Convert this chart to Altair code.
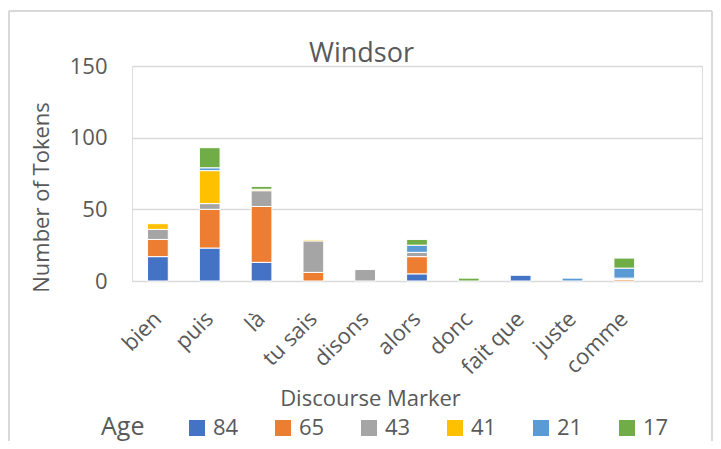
import altair as alt
import pandas as pd

categories = ["bien", "puis", "là", "tu sais", "disons", "alors", "donc", "fait que", "juste", "comme"]
ages = ["84", "65", "43", "41", "21", "17"]
colors = ["#4472C4", "#ED7D31", "#A5A5A5", "#FFC000", "#5B9BD5", "#70AD47"]

v84 = [17, 23, 13, 0, 0, 5, 0, 4, 0, 0]
v65 = [12, 27, 39, 6, 0, 12, 0, 0, 0, 1]
v43 = [7, 4, 11, 22, 8, 3, 0, 0, 0, 1]
v41 = [4, 23, 1, 1, 0, 0, 0, 0, 0, 0]
v21 = [0, 2, 0, 0, 0, 5, 0, 0, 2, 7]
v17 = [0, 14, 2, 0, 0, 4, 2, 0, 0, 7]
series = [v84, v65, v43, v41, v21, v17]

rows = []
for ai, (age, vals) in enumerate(zip(ages, series)):
    for cat, v in zip(categories, vals):
        if v > 0:
            rows.append({"marker": cat, "age": age, "tokens": v, "idx": ai})
df = pd.DataFrame(rows)

FONT = "Open Sans"
TXT = "#595959"
GRID = "#d9d9d9"

bars = alt.Chart(df).mark_bar(stroke="white", strokeWidth=1).encode(
    x=alt.X(
        "marker:N",
        sort=None,
        scale=alt.Scale(domain=categories + [" "], paddingInner=0.6, paddingOuter=0.3),
        axis=alt.Axis(
            title="Discourse Marker",
            titleFont=FONT, titleFontSize=22, titleFontWeight="normal", titleColor=TXT,
            titleX=238, titleY=124, titleAlign="center", titleBaseline="alphabetic",
            labelFont=FONT, labelFontSize=22, labelColor=TXT,
            labelAngle=315, labelAlign="right", labelBaseline="middle", labelPadding=34,
            domain=False, ticks=False, grid=False, labelOverlap=False,
        ),
    ),
    y=alt.Y(
        "tokens:Q",
        stack="zero",
        scale=alt.Scale(domain=[0, 150], nice=False),
        axis=alt.Axis(
            title="Number of Tokens", values=[0, 50, 100, 150],
            titleFont=FONT, titleFontSize=22, titleFontWeight="normal", titleColor=TXT,
            titleAngle=270, titleX=-84, titleY=131, titleAlign="center", titleBaseline="alphabetic",
            labelFont=FONT, labelFontSize=22, labelColor=TXT, labelPadding=25,
            domain=False, ticks=False, grid=True, gridColor=GRID, gridWidth=1.5,
        ),
    ),
    color=alt.Color(
        "age:N",
        scale=alt.Scale(domain=ages, range=colors),
        legend=alt.Legend(
            title=None, orient="none", legendX=54, legendY=351,
            direction="horizontal",
            labelFont=FONT, labelFontSize=22, labelColor=TXT, labelOffset=5,
            symbolType="square", symbolSize=256, symbolStrokeWidth=0, columnPadding=33,
            padding=0, columns=6,
        ),
    ),
    order=alt.Order("idx:Q"),
)

one = pd.DataFrame({"k": [0]})
title = alt.Chart(one).mark_text(
    text="Windsor", font=FONT, fontSize=27, color=TXT, align="center", baseline="alphabetic"
).encode(x=alt.value(229.5), y=alt.value(-4))

age_title = alt.Chart(one).mark_text(
    text="Age", font=FONT, fontSize=25, color=TXT, align="left", baseline="alphabetic"
).encode(x=alt.value(-31), y=alt.value(369))

border_left = alt.Chart(one).mark_rule(color=GRID, strokeWidth=2).encode(
    x=alt.value(-123), y=alt.value(-55), y2=alt.value(400))
border_top = alt.Chart(one).mark_rule(color=GRID, strokeWidth=2).encode(
    x=alt.value(-123), x2=alt.value(580), y=alt.value(-55))
border_right = alt.Chart(one).mark_rule(color=GRID, strokeWidth=2).encode(
    x=alt.value(580), y=alt.value(-55), y2=alt.value(400))
edge_left = alt.Chart(one).mark_rule(color=GRID, strokeWidth=2).encode(
    x=alt.value(-131), y=alt.value(-66), y2=alt.value(400))

chart = alt.layer(border_left, border_top, border_right, edge_left, bars, title, age_title).properties(
    width=570, height=215,
    autosize="none",
    padding={"left": 124, "top": 58, "right": 11, "bottom": 160},
).configure_view(stroke=None).configure(background="white")

chart.save("out.html", embed_options={"renderer": "svg", "actions": False})
